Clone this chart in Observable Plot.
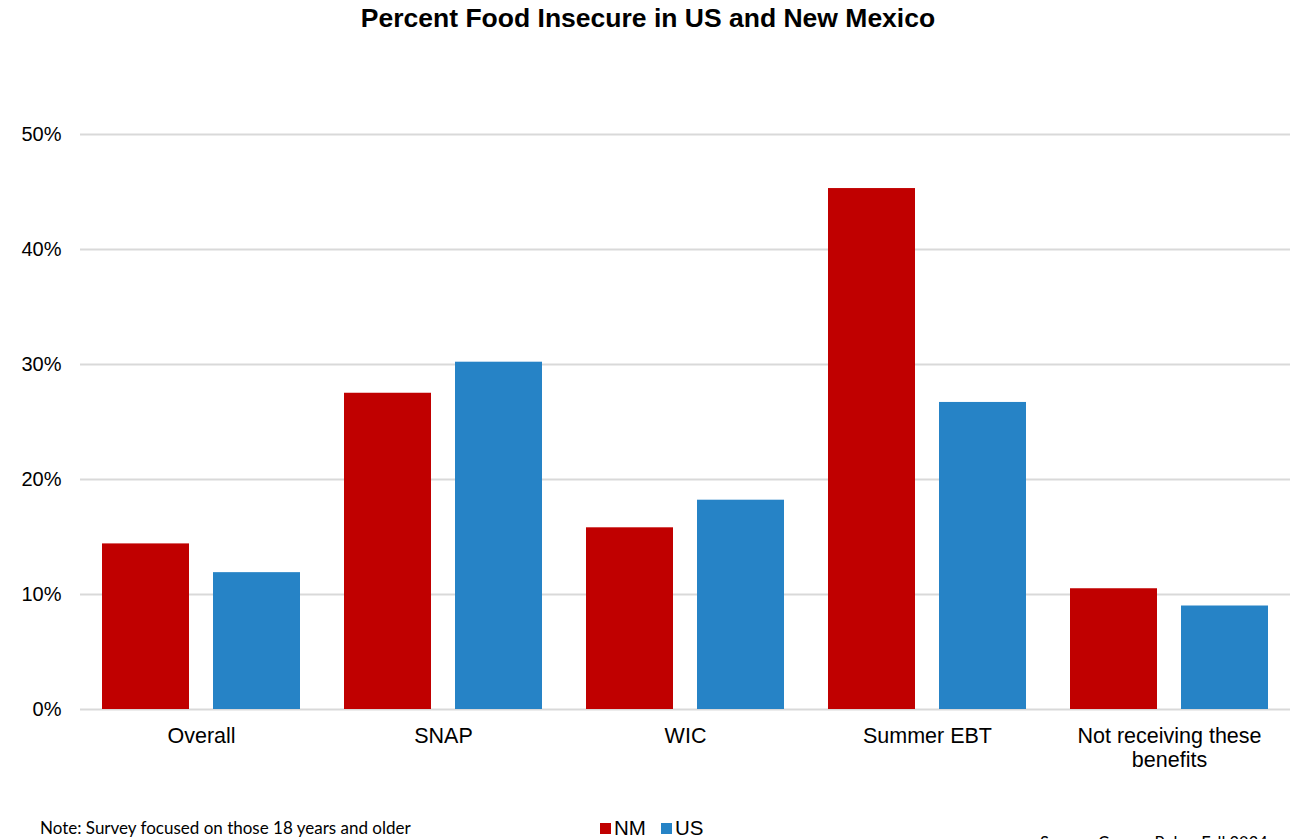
<!DOCTYPE html>
<html>
<head>
<meta charset="utf-8">
<script src="https://cdn.jsdelivr.net/npm/d3@7"></script>
<script src="https://cdn.jsdelivr.net/npm/@observablehq/plot@0.6"></script>
<style>
  html, body { margin: 0; padding: 0; background: #fff; }
  body { width: 1302px; height: 839px; overflow: hidden; position: relative; font-family: "Liberation Sans", Arial, sans-serif; }
  #title { position: absolute; left: 0; top: 3px; width: 1296px; text-align: center; font-weight: bold; font-size: 26.5px; color: #000; }
  #chart { position: absolute; left: 0; top: 40px; }
  #note { position: absolute; left: 40px; top: 817px; font-family: Lato, "Noto Sans", sans-serif; font-size: 17px; color: #000; white-space: nowrap; }
  #legend { position: absolute; left: 600px; top: 816px; font-family: "Liberation Sans Narrow", "Liberation Sans", Arial, sans-serif; font-size: 20.5px; color: #000; display: flex; align-items: center; }
  #legend .sw { display: inline-block; width: 11px; height: 11px; margin-right: 3px; }
  #legend .item { display: flex; align-items: center; margin-right: 15px; }
  #source { position: absolute; left: 1040px; top: 833px; font-family: Lato, "Noto Sans", sans-serif; font-size: 16.5px; color: #000; white-space: nowrap; }
</style>
</head>
<body>
<div id="title">Percent Food Insecure in US and New Mexico</div>
<div id="chart"></div>
<div id="note">Note: Survey focused on those 18 years and older</div>
<div id="legend"></div>
<div id="source">Source: Census Pulse, Fall 2024</div>
<script>
const categories = ["Overall", "SNAP", "WIC", "Summer EBT", "Not receiving these benefits"];
const categoryLabels = ["Overall", "SNAP", "WIC", "Summer EBT", "Not receiving these\nbenefits"];
const series = ["NM", "US"];
const seriesColors = ["#c00000", "#2683c6"];
const nmValues = [14.4, 27.5, 15.8, 45.3, 10.5];
const usValues = [11.9, 30.2, 18.2, 26.7, 9.0];
const yTicks = [0, 10, 20, 30, 40, 50];

const data = [];
categories.forEach((c, i) => {
  data.push({category: c, series: "NM", value: nmValues[i]});
  data.push({category: c, series: "US", value: usValues[i]});
});
const labelOf = new Map(categories.map((c, i) => [c, categoryLabels[i]]));

const chart = Plot.plot({
  width: 1302,
  height: 760,
  marginLeft: 80,
  marginRight: 12,
  marginTop: 94,
  marginBottom: 91,
  style: {fontFamily: "'Liberation Sans', Arial, sans-serif", fontSize: "20px", color: "#000", background: "#fff"},
  fx: {domain: categories, padding: 0, label: null, axis: null},
  x: {domain: series, paddingInner: 0.216, paddingOuter: 0.198, axis: null},
  y: {domain: [0, 50], label: null},
  color: {domain: series, range: seriesColors},
  marks: [
    Plot.ruleY(yTicks, {stroke: "#d9d9d9", strokeWidth: 2}),
    Plot.barY(data, {fx: "category", x: "series", y: "value", fill: "series"}),
    Plot.axisY({ticks: yTicks, tickFormat: d => d + "%", tickSize: 0, tickPadding: 19, label: null, fill: "#000", fontSize: 20}),
    Plot.axisFx({anchor: "bottom", tickSize: 0, tickPadding: 16, label: null, lineHeight: 1.12, fontSize: 21.5, tickFormat: d => labelOf.get(d), fill: "#000"})
  ]
});
document.getElementById("chart").appendChild(chart);

const legend = document.getElementById("legend");
series.forEach((s, i) => {
  const item = document.createElement("span");
  item.className = "item";
  const sw = document.createElement("span");
  sw.className = "sw";
  sw.style.background = seriesColors[i];
  item.appendChild(sw);
  item.appendChild(document.createTextNode(s));
  legend.appendChild(item);
});
</script>
</body>
</html>
